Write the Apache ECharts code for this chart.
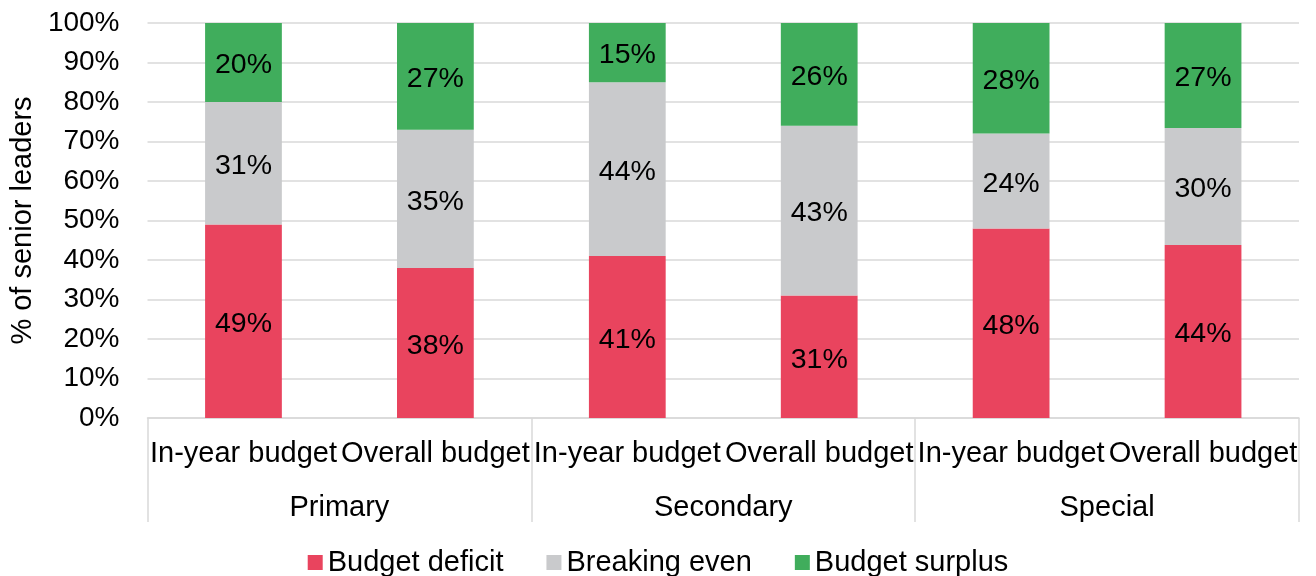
<!DOCTYPE html>
<html>
<head>
<meta charset="utf-8">
<script src="https://cdn.jsdelivr.net/npm/echarts@6/dist/echarts.min.js"></script>
<style>
  html, body { margin: 0; padding: 0; background: #fff; }
  #chart { width: 1316px; height: 576px; }
</style>
</head>
<body>
<div id="chart"></div>
<script>
// categories (two-level axis)
var budgetTypes = ['In-year budget', 'Overall budget', 'In-year budget', 'Overall budget', 'In-year budget', 'Overall budget'];
var schoolPhases = ['Primary', 'Secondary', 'Special'];

// % of senior leaders
var deficit  = [49, 38, 41, 31, 48, 43.8];
var breaking = [31, 35, 44, 43, 24, 29.6];
var surplus  = [20, 27, 15, 26, 28, 26.6];

var seriesNames = ['Budget deficit', 'Breaking even', 'Budget surplus'];
var colors = ['#E9445E', '#C9CACC', '#40AD5C'];

var font = 'Liberation Sans, Arial, sans-serif';
var gridColor = '#D9D9D9';

var chart = echarts.init(document.getElementById('chart'));

function barSeries(name, data, color) {
  return {
    name: name,
    type: 'bar',
    stack: 'total',
    xAxisIndex: 0,
    barWidth: '40%',
    data: data,
    itemStyle: { color: color },
    label: {
      show: true,
      position: 'inside',
      offset: [0, 3],
      color: '#000',
      fontFamily: font,
      fontSize: 28.5,
      formatter: function (p) { return Math.round(p.value) + '%'; }
    }
  };
}

var option = {
  animation: false,
  textStyle: { fontFamily: font },
  grid: { left: 147, right: 17, top: 23, bottom: 158 },
  legend: {
    top: 543,
    left: 'center',
    itemWidth: 15,
    itemHeight: 15,
    itemGap: 43,
    icon: 'rect',
    textStyle: { fontSize: 29, color: '#000', fontFamily: font },
    data: seriesNames
  },
  xAxis: [
    {
      type: 'category',
      data: budgetTypes,
      position: 'bottom',
      axisLine: { lineStyle: { color: gridColor, width: 1.5 } },
      axisTick: { show: false },
      axisLabel: { interval: 0, margin: 21, fontSize: 29, color: '#000', fontFamily: font }
    },
    {
      type: 'category',
      data: schoolPhases,
      position: 'bottom',
      offset: 104,
      axisLine: { show: false },
      axisTick: { show: true, inside: true, length: 104, lineStyle: { color: gridColor, width: 1.5 } },
      axisLabel: { inside: true, margin: 0, fontSize: 29, color: '#000', fontFamily: font }
    }
  ],
  yAxis: {
    type: 'value',
    min: 0,
    max: 100,
    interval: 10,
    name: '% of senior leaders',
    nameLocation: 'middle',
    nameGap: 106,
    nameTextStyle: { fontSize: 29, color: '#000', fontFamily: font },
    axisLine: { show: false },
    axisTick: { show: false },
    axisLabel: { formatter: '{value}%', margin: 28, fontSize: 28, color: '#000', fontFamily: font },
    splitLine: { lineStyle: { color: gridColor, width: 1.5 } }
  },
  series: [
    barSeries(seriesNames[0], deficit, colors[0]),
    barSeries(seriesNames[1], breaking, colors[1]),
    barSeries(seriesNames[2], surplus, colors[2])
  ]
};

chart.setOption(option);
</script>
</body>
</html>
